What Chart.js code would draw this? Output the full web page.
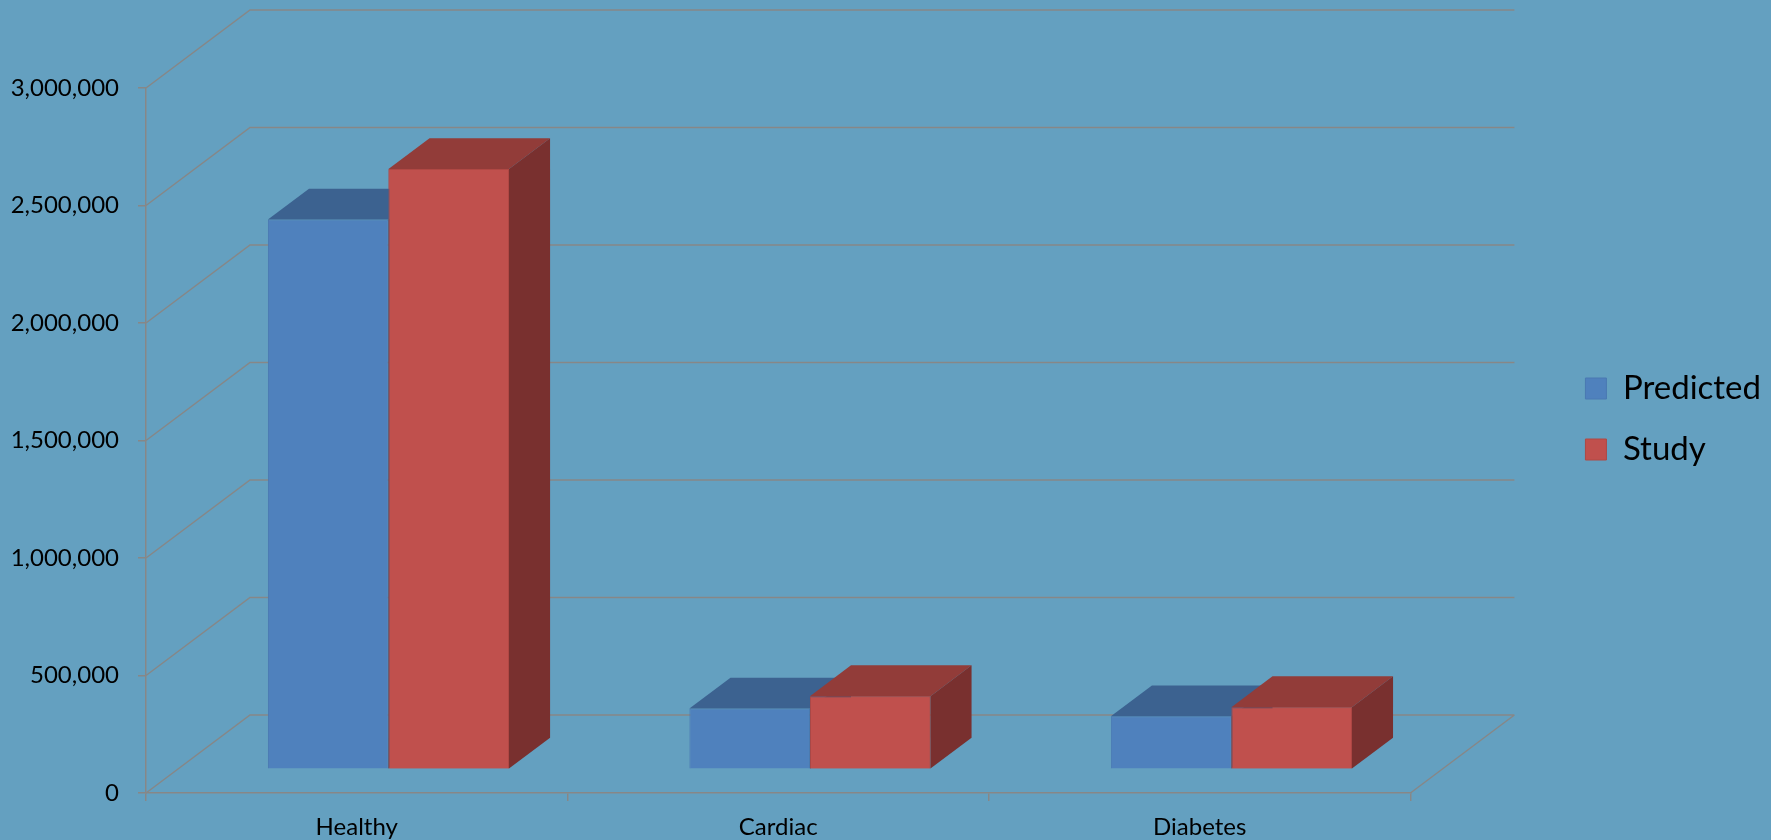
<!DOCTYPE html>
<html>
<head>
<meta charset="utf-8">
<title>Predicted vs Study</title>
<script src="https://cdn.jsdelivr.net/npm/chart.js@4.4.1/dist/chart.umd.min.js"></script>
<style>
  html, body { margin: 0; padding: 0; background: #64a0c0; }
  #wrap { width: 1771px; height: 840px; }
</style>
</head>
<body>
<div id="wrap"><canvas id="chart"></canvas></div>
<script>
// Data
const categories = ['Healthy', 'Cardiac', 'Diabetes'];
const predicted = [2339000, 258000, 225000];
const study = [2554000, 311000, 264000];
const yTickValues = [0, 500000, 1000000, 1500000, 2000000, 2500000, 3000000];

// 3D look: the back wall offset and where the boxes sit in depth
const WALL = { dx: 104, dy: -78 };
const BAR_FRONT = 0.305;
const BAR_DEPTH = 0.395;
const GRID = '#878787';
const SHADES = [
  { front: '#4f81bd', top: '#3c6290', side: '#2f4d72', edge: '#4a79b2' },
  { front: '#c0504d', top: '#923c39', side: '#79302f', edge: '#b04844' }
];

const box3d = {
  id: 'box3d',
  afterLayout(chart) {
    // legend sits a bit above the plot's middle
    chart.legend.top -= 45;
    chart.legend.bottom -= 45;
  },
  beforeDatasetsDraw(chart) {
    const { ctx, chartArea: a, scales: { y } } = chart;
    ctx.save();
    ctx.strokeStyle = GRID;
    ctx.lineWidth = 1.5;
    ctx.beginPath();
    y.ticks.forEach(t => {
      const py = y.getPixelForValue(t.value);
      ctx.moveTo(a.left, py);
      ctx.lineTo(a.left + WALL.dx, py + WALL.dy);
      ctx.lineTo(a.right + WALL.dx, py + WALL.dy);
    });
    const p0 = y.getPixelForValue(0);
    ctx.moveTo(a.right, p0);
    ctx.lineTo(a.right + WALL.dx, p0 + WALL.dy);
    ctx.stroke();
    ctx.restore();
    // push the bars back into the floor
    ctx.save();
    ctx.translate(WALL.dx * BAR_FRONT, WALL.dy * BAR_FRONT);
  },
  afterDatasetsDraw(chart) {
    const ctx = chart.ctx;
    const dx = WALL.dx * BAR_DEPTH, dy = WALL.dy * BAR_DEPTH;
    const metas = chart.getSortedVisibleDatasetMetas();
    categories.forEach((c, i) => {
      metas.forEach((meta, j) => {
        const bar = meta.data[i];
        const { x, y, base, width } = bar.getProps(['x', 'y', 'base', 'width'], true);
        const l = x - width / 2, r = x + width / 2;
        if (j > 0) bar.draw(ctx);
        const sh = SHADES[meta.index];
        ctx.fillStyle = sh.top;
        ctx.beginPath();
        ctx.moveTo(l, y); ctx.lineTo(l + dx, y + dy); ctx.lineTo(r + dx, y + dy); ctx.lineTo(r, y);
        ctx.closePath(); ctx.fill();
        ctx.fillStyle = sh.side;
        ctx.beginPath();
        ctx.moveTo(r, y); ctx.lineTo(r + dx, y + dy); ctx.lineTo(r + dx, base + dy); ctx.lineTo(r, base);
        ctx.closePath(); ctx.fill();
      });
    });
    ctx.restore();
  }
};

new Chart(document.getElementById('chart'), {
  type: 'bar',
  data: {
    labels: categories,
    datasets: [
      { label: 'Predicted', data: predicted, backgroundColor: SHADES[0].front, borderColor: SHADES[0].edge, borderWidth: 1 },
      { label: 'Study', data: study, backgroundColor: SHADES[1].front, borderColor: SHADES[1].edge, borderWidth: 1 }
    ]
  },
  options: {
    responsive: true,
    maintainAspectRatio: false,
    animation: false,
    clip: false,
    categoryPercentage: 0.572,
    barPercentage: 1.0,
    layout: { padding: { top: 88, left: 0, right: 0, bottom: 0 } },
    plugins: {
      tooltip: { enabled: false },
      legend: {
        position: 'right',
        labels: {
          boxWidth: 21, boxHeight: 21, padding: 28,
          color: '#000', font: { family: 'Lato', size: 33 }
        }
      }
    },
    scales: {
      x: {
        grid: { display: true, drawOnChartArea: false, drawTicks: true, tickLength: 8, color: GRID, lineWidth: 1.5 },
        border: { display: true, color: GRID, width: 1.5 },
        ticks: { color: '#000', padding: 12, font: { family: 'Lato', size: 24 } },
        afterFit(s) { s.height = 47; }
      },
      y: {
        min: 0, max: 3000000,
        afterBuildTicks(s) { s.ticks = yTickValues.map(v => ({ value: v })); },
        grid: { display: true, drawOnChartArea: false, drawTicks: true, tickLength: 8, color: GRID, lineWidth: 1.5 },
        border: { display: true, color: GRID, width: 1.5 },
        ticks: { color: '#000', padding: 19, font: { family: 'Lato', size: 24 },
          callback: v => v.toLocaleString('en-US') },
        afterFit(s) { s.width = 146; }
      },
      yR: {
        position: 'right',
        display: true,
        grid: { display: false },
        border: { display: false },
        ticks: { display: false },
        afterFit(s) { s.width = 147; }
      }
    }
  },
  plugins: [box3d]
});
</script>
</body>
</html>
